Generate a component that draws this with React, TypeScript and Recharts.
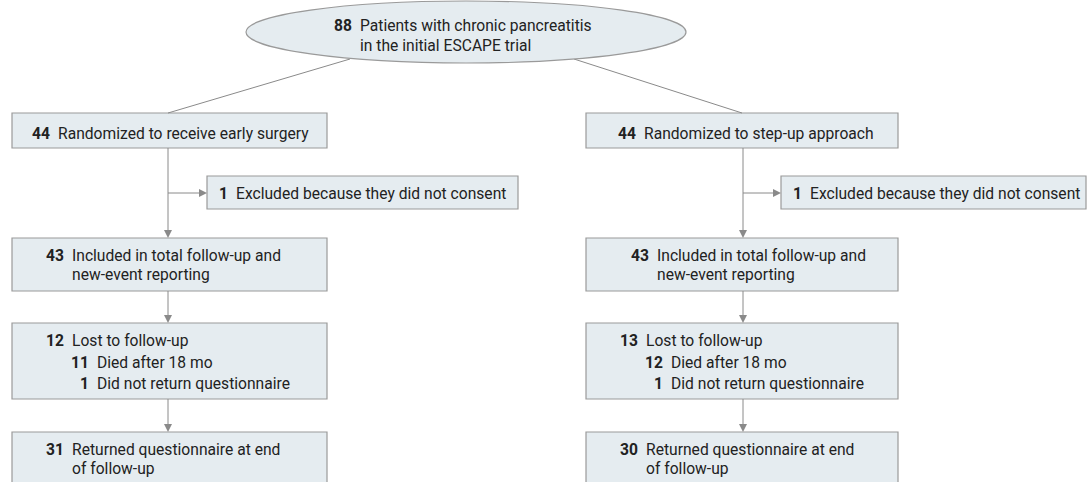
import {
  ComposedChart,
  XAxis,
  YAxis,
  Scatter,
  ReferenceArea,
  ReferenceLine,
  ReferenceDot,
} from 'recharts';

// counts and labels
const topCount = 88;
const topLabel = ['Patients with chronic pancreatitis', 'in the initial ESCAPE trial'];
const randomized = [44, 44];
const randomizedLabel = ['Randomized to receive early surgery', 'Randomized to step-up approach'];
const excluded = [1, 1];
const excludedLabel = 'Excluded because they did not consent';
const included = [43, 43];
const includedLabel = ['Included in total follow-up and', 'new-event reporting'];
const lost = [12, 13];
const lostLabel = 'Lost to follow-up';
const died = [11, 12];
const diedLabel = 'Died after 18 mo';
const notReturned = [1, 1];
const notReturnedLabel = 'Did not return questionnaire';
const returned = [31, 30];
const returnedLabel = ['Returned questionnaire at end', 'of follow-up'];

const W = 1087;
const H = 482;
const FONT = "Roboto, 'Noto Sans', sans-serif";
const SQUEEZE = 0.92; // the original uses a condensed face
const BOX_FILL = '#e5ecf0';
const BOX_STROKE = '#9a9a9a';
const LINE = '#8a8a8a';
const TEXT = '#222';

// layout of each arm (pixel space of the chart)
const arms = [
  { box: [12, 327], stem: 168, excl: [207, 518], exNum: 228, randNum: 50, incNum: 64, sub: 64, sub2: 89 },
  { box: [586, 898], stem: 743, excl: [781, 1086], exNum: 802, randNum: 636, incNum: 649, sub: 638, sub2: 663 },
];

type Row = { x: number; y: number; num: number | string; label: string };

const rows: Row[] = [
  { x: 352, y: 25, num: topCount, label: topLabel[0] },
  { x: 352, y: 45, num: '', label: topLabel[1] },
];
arms.forEach((a, i) => {
  rows.push({ x: a.randNum, y: 133, num: randomized[i], label: randomizedLabel[i] });
  rows.push({ x: a.exNum, y: 193, num: excluded[i], label: excludedLabel });
  rows.push({ x: a.incNum, y: 255, num: included[i], label: includedLabel[0] });
  rows.push({ x: a.incNum, y: 274, num: '', label: includedLabel[1] });
  rows.push({ x: a.sub, y: 340, num: lost[i], label: lostLabel });
  rows.push({ x: a.sub2, y: 362, num: died[i], label: diedLabel });
  rows.push({ x: a.sub2, y: 383, num: notReturned[i], label: notReturnedLabel });
  rows.push({ x: a.sub, y: 449, num: returned[i], label: returnedLabel[0] });
  rows.push({ x: a.sub, y: 468, num: '', label: returnedLabel[1] });
});

const arrows: { x: number; y: number; dir: 'down' | 'right' }[] = [];
arms.forEach((a) => {
  arrows.push({ x: a.stem, y: 238, dir: 'down' });
  arrows.push({ x: a.stem, y: 323, dir: 'down' });
  arrows.push({ x: a.stem, y: 432, dir: 'down' });
  arrows.push({ x: a.excl[0], y: 193, dir: 'right' });
});

const TextRow = (props: any) => {
  const { cx, cy, payload } = props;
  return (
    <g fontFamily={FONT} fontSize={17} fill={TEXT}>
      <text transform={`translate(${cx},${cy}) scale(${SQUEEZE},1)`} dy='0.36em' textAnchor='end' fontWeight={700}>
        {payload.num}
      </text>
      <text transform={`translate(${cx + 8},${cy}) scale(${SQUEEZE},1)`} dy='0.36em' textAnchor='start'>
        {payload.label}
      </text>
    </g>
  );
};

const ArrowHead = (props: any) => {
  const { cx, cy, payload } = props;
  const d =
    payload.dir === 'down'
      ? `M${cx - 4},${cy - 8} L${cx + 4},${cy - 8} L${cx},${cy} Z`
      : `M${cx - 8},${cy - 4} L${cx - 8},${cy + 4} L${cx},${cy} Z`;
  return <path d={d} fill={LINE} />;
};

const Oval = (props: any) => (
  <ellipse cx={props.cx} cy={props.cy} rx={220} ry={31} fill={BOX_FILL} stroke={BOX_STROKE} strokeWidth={1.2} />
);

const boxProps = { fill: BOX_FILL, fillOpacity: 1, stroke: BOX_STROKE, strokeWidth: 1.2, ifOverflow: 'visible' as const };

export default function App() {
  return (
    <div style={{ position: 'absolute', left: 0, top: 0, background: '#fff' }}>
      <ComposedChart width={W} height={H} margin={{ top: 0, right: 0, bottom: 0, left: 0 }}>
        <XAxis type='number' dataKey='x' domain={[0, W]} hide allowDataOverflow />
        <YAxis type='number' dataKey='y' domain={[0, H]} reversed hide allowDataOverflow />

        {/* connectors */}
        <ReferenceLine segment={[{ x: 350, y: 59 }, { x: 168, y: 113 }]} stroke={LINE} />
        <ReferenceLine segment={[{ x: 574, y: 59 }, { x: 742, y: 113 }]} stroke={LINE} />
        {arms.map((a, i) => (
          <ReferenceLine key={`s1${i}`} segment={[{ x: a.stem, y: 148 }, { x: a.stem, y: 231 }]} stroke={LINE} />
        ))}
        {arms.map((a, i) => (
          <ReferenceLine key={`h${i}`} segment={[{ x: a.stem, y: 193 }, { x: a.excl[0] - 7, y: 193 }]} stroke={LINE} />
        ))}
        {arms.map((a, i) => (
          <ReferenceLine key={`s2${i}`} segment={[{ x: a.stem, y: 291 }, { x: a.stem, y: 316 }]} stroke={LINE} />
        ))}
        {arms.map((a, i) => (
          <ReferenceLine key={`s3${i}`} segment={[{ x: a.stem, y: 399 }, { x: a.stem, y: 425 }]} stroke={LINE} />
        ))}

        {/* boxes */}
        {arms.map((a, i) => (
          <ReferenceArea key={`b1${i}`} x1={a.box[0]} x2={a.box[1]} y1={113} y2={148} {...boxProps} />
        ))}
        {arms.map((a, i) => (
          <ReferenceArea key={`be${i}`} x1={a.excl[0]} x2={a.excl[1]} y1={176} y2={209} {...boxProps} />
        ))}
        {arms.map((a, i) => (
          <ReferenceArea key={`b2${i}`} x1={a.box[0]} x2={a.box[1]} y1={238} y2={291} {...boxProps} />
        ))}
        {arms.map((a, i) => (
          <ReferenceArea key={`b3${i}`} x1={a.box[0]} x2={a.box[1]} y1={323} y2={399} {...boxProps} />
        ))}
        {arms.map((a, i) => (
          <ReferenceArea key={`b4${i}`} x1={a.box[0]} x2={a.box[1]} y1={432} y2={500} {...boxProps} />
        ))}

        <ReferenceDot x={466} y={32} shape={Oval} ifOverflow='visible' />

        <Scatter data={arrows} shape={ArrowHead} isAnimationActive={false} />
        <Scatter data={rows} shape={TextRow} isAnimationActive={false} />
      </ComposedChart>
    </div>
  );
}
